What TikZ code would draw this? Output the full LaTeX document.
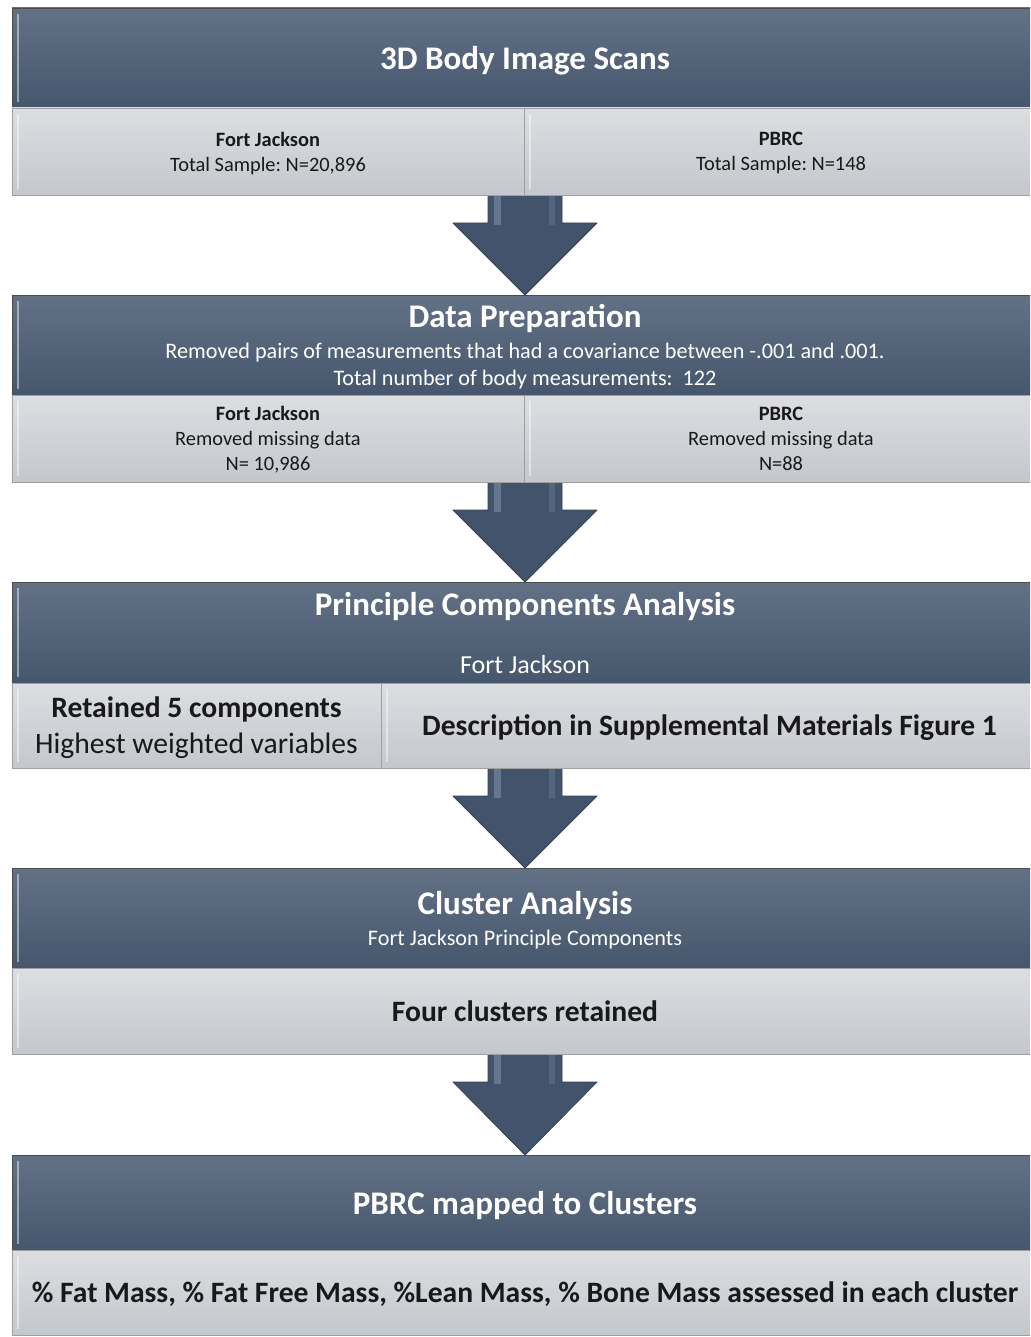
\documentclass[tikz,border=0pt]{standalone}
\usepackage{fontspec}
\setmainfont{Carlito}
\usetikzlibrary{positioning, calc, backgrounds}
\frenchspacing

\definecolor{hdrtop}{RGB}{98,113,134}
\definecolor{hdrbot}{RGB}{70,86,108}
\definecolor{subtop}{RGB}{220,222,226}
\definecolor{subbot}{RGB}{196,199,204}
\definecolor{arrowblue}{RGB}{66,83,107}
\definecolor{arrowlight}{RGB}{128,148,176}

\newcommand{\ttltxt}{\fontsize{16.5}{20}\selectfont\bfseries}
\newcommand{\smalltxt}{\fontsize{10.2}{12.5}\selectfont}
\newcommand{\midtxt}{\fontsize{11.1}{13.5}\selectfont}
\newcommand{\bigtxt}{\fontsize{14.8}{18}\selectfont}

% big block arrow from a box down to the next header
\newcommand{\flowarrow}[2]{%
  \coordinate (base) at (#2.north |- #1.south);
  \path[fill=arrowblue, draw=arrowblue!80!black, line join=round]
    ($(base)+(-37,0)$) -- ($(base)+(-37,28)$) -- ($(base)+(-72,28)$) -- (#2.north)
    -- ($(base)+(72,28)$) -- ($(base)+(37,28)$) -- ($(base)+(37,0)$) -- cycle;
  \fill[arrowlight, opacity=.55] ($(base)+(-31,0)$) rectangle ($(base)+(-24,30)$);
  \fill[arrowlight, opacity=.3] ($(base)+(24,0)$) rectangle ($(base)+(30,30)$);
}

\begin{document}
\begin{tikzpicture}[x=0.5pt, y=-0.5pt]
    % Styles
    \tikzset{
        header/.style = {rectangle, anchor=north west, inner sep=0pt, outer sep=0pt, minimum width=513pt, minimum height=50pt, top color=hdrtop, bottom color=hdrbot, draw=gray!60!black, text=white, align=center, text depth=0pt, font=\midtxt},
        subbox/.style = {rectangle, anchor=north west, inner sep=0pt, outer sep=0pt, minimum height=43.5pt, top color=subtop, bottom color=subbot, draw=gray!75, text=black!90, align=center, text depth=0pt, font=\smalltxt},
        bevel/.style  = {path picture={\draw[white, opacity=.45, line width=1.2pt] ($(path picture bounding box.north west)+(3pt,-3pt)$) -- ($(path picture bounding box.south west)+(3pt,3pt)$);}}
    }
    \clip (0,0) rectangle (1030,1337);

    % Stage 1
    \node [header, bevel] (scans) at (12,8) {{\ttltxt 3D Body Image Scans}};
    \node [subbox, bevel, minimum width=256pt] (scansfj) at (scans.south west) {{\bfseries Fort Jackson}\\Total Sample: N=20,896};
    \node [subbox, bevel, minimum width=257pt] (scanspb) at (scansfj.north east) {{\bfseries PBRC}\\Total Sample: N=148};

    % Stage 2
    \node [header, bevel] (prep) at (12,295) {{\ttltxt Data Preparation}\\[2pt]Removed pairs of measurements that had a covariance between -.001 and .001.\\Total number of body measurements:\ \ 122};
    \node [subbox, bevel, minimum width=256pt] (prepfj) at (prep.south west) {{\bfseries Fort Jackson}\\Removed missing data\\N= 10,986};
    \node [subbox, bevel, minimum width=257pt] (preppb) at (prepfj.north east) {{\bfseries PBRC}\\Removed missing data\\N=88};

    % Stage 3
    \node [header, bevel, minimum height=50.5pt, font=\fontsize{13}{16}\selectfont] (pca) at (12,582) {{\ttltxt Principle Components Analysis}\\[13pt]Fort Jackson};
    \node [subbox, bevel, minimum width=184.5pt, minimum height=42.5pt, font=\bigtxt] (pcaret) at (pca.south west) {{\bfseries Retained 5 components}\\Highest weighted variables};
    \node [subbox, bevel, minimum width=328.5pt, minimum height=42.5pt, font=\bigtxt\bfseries] (pcadesc) at (pcaret.north east) {Description in Supplemental Materials Figure 1};

    % Stage 4
    \node [header, bevel] (cluster) at (12,868) {{\ttltxt Cluster Analysis}\\[2pt]Fort Jackson Principle Components};
    \node [subbox, bevel, minimum width=513pt, minimum height=43pt, font=\bigtxt\bfseries] (clusterret) at (cluster.south west) {Four clusters retained};

    % Stage 5
    \node [header, bevel, minimum height=47.5pt] (mapped) at (12,1155) {{\ttltxt PBRC mapped to Clusters}};
    \node [subbox, bevel, minimum width=513pt, minimum height=42.5pt, font=\bigtxt\bfseries] (mass) at (mapped.south west) {\% Fat Mass, \% Fat Free Mass, \%Lean Mass, \% Bone Mass assessed in each cluster};

    % Connexions
    \begin{scope}[on background layer]
        \flowarrow{scansfj}{prep}
        \flowarrow{prepfj}{pca}
        \flowarrow{pcaret}{cluster}
        \flowarrow{clusterret}{mapped}
    \end{scope}
\end{tikzpicture}
\end{document}
